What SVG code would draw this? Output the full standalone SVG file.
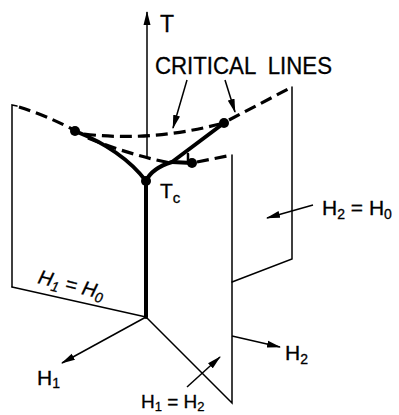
<svg xmlns="http://www.w3.org/2000/svg" width="399" height="415" viewBox="0 0 399 415">
<style>
.thin{fill:none;stroke:#000;stroke-width:1.5;stroke-linecap:round}
.thick{fill:none;stroke:#000;stroke-width:4;stroke-linecap:round;stroke-linejoin:round}
.dash{fill:none;stroke:#000;stroke-width:3.2;stroke-dasharray:12 6}
.arr{fill:none;stroke:#000;stroke-width:1.5;marker-end:url(#ah)}
.dot{fill:#000}
text{font-family:"Liberation Sans",Arial,sans-serif;fill:#000;stroke:#000;stroke-width:0.3}
</style>
<defs>
<marker id="ah" viewBox="0 0 14 8" refX="13" refY="4" markerWidth="14" markerHeight="8" markerUnits="userSpaceOnUse" orient="auto">
<path d="M0,0.5 L14,4 L0,7.5 Z" fill="#000"/>
</marker>
</defs>
<rect width="399" height="415" fill="#fff"/>
<g id="connectors">
<line class="arr" x1="147" y1="157" x2="147" y2="12"/>
<path class="thin" d="M12,287 L12,105 L17,106"/>
<path class="thin" d="M12,287 L146,317"/>
<path class="dash" d="M19,107 Q45,115 72,129"/>
<path class="dash" d="M229,120 L292,87"/>
<path class="thin" d="M292,87 L292,259 L232,282"/>
<path class="dash" d="M197,162 L232,155"/>
<path class="thin" d="M232,155 L232,403 L146,317"/>
<path class="dash" d="M84,134 Q150,142 220,124"/>
<path class="dash" d="M88,138 Q130,155 170,163"/>
<path class="thick" d="M75,131 C105,143 130,160 146,181"/>
<path class="thick" d="M146,181 Q152,168 172,162 L224,123"/>
<path class="thick" d="M172,162 L192,163"/>
<path class="thick" style="stroke-width:2.5" d="M188,154 L188,163"/>
<path class="thick" d="M146,181 L146,317"/>
<line class="arr" x1="187" y1="80" x2="173" y2="128"/>
<line class="arr" x1="225" y1="80" x2="235" y2="112"/>
<line class="arr" x1="313" y1="205" x2="267" y2="218"/>
<line class="arr" x1="146" y1="317" x2="62" y2="363"/>
<line class="arr" x1="232" y1="336" x2="280" y2="347"/>
<line class="arr" x1="187" y1="387" x2="220" y2="357"/>
</g>
<g id="points">
<circle class="dot" cx="75" cy="131" r="5"/>
<circle class="dot" cx="224" cy="123" r="5"/>
<circle class="dot" cx="192" cy="163" r="5"/>
<circle class="dot" cx="146" cy="181" r="5"/>
</g>
<g id="labels">
<text x="160" y="32" font-size="23">T</text>
<text x="155" y="74" font-size="23" textLength="177" lengthAdjust="spacingAndGlyphs" xml:space="preserve">CRITICAL  LINES</text>
<text x="160" y="198" font-size="21">T<tspan font-size="15" dy="5">c</tspan></text>
<text x="322" y="215" font-size="21">H<tspan font-size="14" dy="4">2</tspan><tspan dy="-4"> = H</tspan><tspan font-size="14" dy="4">0</tspan></text>
<text transform="translate(37,283) rotate(14)" font-size="20" font-style="italic">H<tspan font-size="14" dy="4">1</tspan><tspan dy="-4"> = H</tspan><tspan font-size="14" dy="4">0</tspan></text>
<text x="37" y="385" font-size="21">H<tspan font-size="14" dy="3">1</tspan></text>
<text x="285" y="360" font-size="21">H<tspan font-size="14" dy="4">2</tspan></text>
<text x="141" y="408" font-size="19">H<tspan font-size="13" dy="3">1</tspan><tspan dy="-3"> = H</tspan><tspan font-size="13" dy="3">2</tspan></text>
</g>
</svg>
